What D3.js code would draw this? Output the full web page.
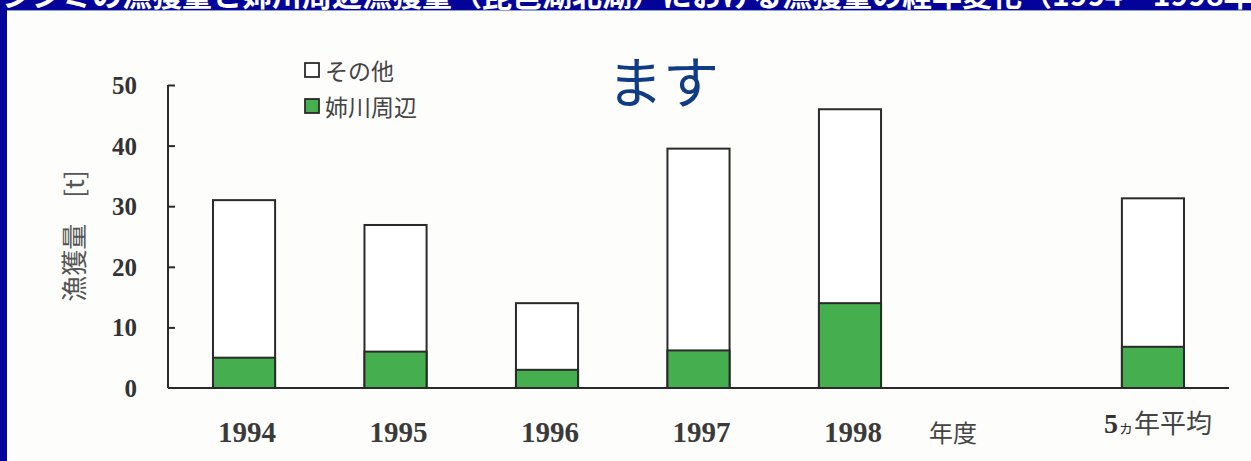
<!DOCTYPE html>
<html>
<head>
<meta charset="utf-8">
<script src="https://cdn.jsdelivr.net/npm/d3@7"></script>
<style>
  html, body { margin: 0; padding: 0; background: #fdfdfb; }
  svg { display: block; }
</style>
</head>
<body>
<div id="chart"></div>
<script>
// ── Data ─────────────────────────────────────────────
const categories = ["1994", "1995", "1996", "1997", "1998", "gap", "avg"];
const anegawa   = [5.0, 6.0, 3.0, 6.2, 14.0, null, 6.8];   // 姉川周辺
const totals    = [31.0, 26.9, 14.0, 39.5, 46.0, null, 31.3];
const yTicks    = [0, 10, 20, 30, 40, 50];
const xLabels   = ["1994", "1995", "1996", "1997", "1998", "", "5ヵ年平均"];
const legendLabels = ["その他", "姉川周辺"];

const W = 1251, H = 461;
const green = "#45af50";
const ink = "#2a2a2a";

const svg = d3.select("#chart").append("svg")
  .attr("width", W).attr("height", H);

svg.append("rect").attr("width", W).attr("height", H).attr("fill", "#fdfdfb");

// slide frame (blue strip top + left)
svg.append("rect").attr("x", 0).attr("y", 0).attr("width", W).attr("height", 10).attr("fill", "#03039a");
svg.append("rect").attr("x", 0).attr("y", 0).attr("width", 7).attr("height", H).attr("fill", "#03039a");
svg.append("line").attr("x1", 7).attr("x2", W).attr("y1", 10.5).attr("y2", 10.5)
  .attr("stroke", "#8fa0d8").attr("stroke-width", 1);

// slide title, cut by the top edge (only its lower part shows)
svg.append("clipPath").attr("id", "topclip")
  .append("rect").attr("x", 0).attr("y", 0).attr("width", W).attr("height", 10);
svg.append("text")
  .attr("clip-path", "url(#topclip)")
  .attr("x", 2).attr("y", 6)
  .attr("fill", "#ffffff")
  .attr("font-family", "Noto Sans CJK JP")
  .attr("font-size", 30)
  .attr("font-weight", "bold")
  .text("シジミの漁獲量と姉川周辺漁獲量（琵琶湖北湖）における漁獲量の経年変化（1994〜1998年度）");

// ── Scales ───────────────────────────────────────────
const y = d3.scaleLinear().domain([0, 50]).range([388, 85]);
const x = d3.scaleBand().domain(categories).range([168, 1229])
  .paddingInner(0.59).paddingOuter(0.297);

// ── Axes ─────────────────────────────────────────────
const yAxis = svg.append("g")
  .attr("transform", "translate(168,0)")
  .call(d3.axisRight(y).tickValues(yTicks).tickSize(7).tickFormat(""));
yAxis.select(".domain").attr("stroke", ink).attr("stroke-width", 2)
  .attr("d", `M0,${y(50)}V${y(0)}`);
yAxis.selectAll(".tick line").attr("stroke", ink).attr("stroke-width", 2);
yAxis.selectAll(".tick").filter(d => d === 0).remove();

svg.selectAll(".ylab").data(yTicks).enter().append("text")
  .attr("class", "ylab")
  .attr("x", 137).attr("y", d => y(d))
  .attr("dy", "0.36em")
  .attr("text-anchor", "end")
  .attr("font-family", "Liberation Serif")
  .attr("font-weight", "bold")
  .attr("font-size", 25)
  .attr("fill", "#333")
  .text(d => d);

// baseline
svg.append("line")
  .attr("x1", 168).attr("x2", 1229)
  .attr("y1", y(0)).attr("y2", y(0))
  .attr("stroke", ink).attr("stroke-width", 2);

// ── Bars ─────────────────────────────────────────────
const rows = categories.map((c, i) => ({ c, a: anegawa[i], t: totals[i] }))
  .filter(d => d.t !== null);

svg.selectAll(".bar-total").data(rows).enter().append("rect")
  .attr("x", d => x(d.c)).attr("width", x.bandwidth())
  .attr("y", d => y(d.t)).attr("height", d => y(0) - y(d.t))
  .attr("fill", "#ffffff").attr("stroke", ink).attr("stroke-width", 2);

svg.selectAll(".bar-ane").data(rows).enter().append("rect")
  .attr("x", d => x(d.c)).attr("width", x.bandwidth())
  .attr("y", d => y(d.a)).attr("height", d => y(0) - y(d.a))
  .attr("fill", green).attr("stroke", ink).attr("stroke-width", 2);

// ── X labels ─────────────────────────────────────────
categories.forEach((c, i) => {
  if (!xLabels[i]) return;
  const cx = x(c) + x.bandwidth() / 2;
  if (c === "avg") {
    const t = svg.append("text")
      .attr("x", cx + 5).attr("y", 433)
      .attr("text-anchor", "middle")
      .attr("fill", "#333");
    t.append("tspan").attr("font-family", "Liberation Serif").attr("font-weight", "bold")
      .attr("font-size", 28).text("5");
    t.append("tspan").attr("font-family", "Noto Sans CJK JP").attr("font-size", 16).text("ヵ");
    t.append("tspan").attr("font-family", "Noto Sans CJK JP").attr("font-size", 26)
      .attr("fill", "#444").text("年平均");
  } else {
    svg.append("text")
      .attr("x", cx + 3).attr("y", 442)
      .attr("text-anchor", "middle")
      .attr("font-family", "Liberation Serif")
      .attr("font-weight", "bold")
      .attr("font-size", 29)
      .attr("fill", "#3a3a3a")
      .text(xLabels[i]);
  }
});

svg.append("text")
  .attr("x", 953).attr("y", 442)
  .attr("text-anchor", "middle")
  .attr("font-family", "Noto Sans CJK JP")
  .attr("font-size", 24)
  .attr("fill", "#444")
  .text("年度");

// ── Y title ──────────────────────────────────────────
svg.append("text")
  .attr("transform", "translate(72,236) rotate(-90)")
  .attr("text-anchor", "middle")
  .attr("dominant-baseline", "central")
  .attr("font-family", "Noto Sans CJK JP")
  .attr("font-size", 26)
  .attr("fill", "#555")
  .text("漁獲量　[t]");

// ── Legend ───────────────────────────────────────────
const legend = svg.append("g").attr("transform", "translate(305,70)");
legendLabels.forEach((lab, i) => {
  const g = legend.append("g").attr("transform", `translate(0,${i * 36})`);
  g.append("rect").attr("x", 0).attr("y", -7).attr("width", 14).attr("height", 14)
    .attr("fill", i === 0 ? "#ffffff" : green)
    .attr("stroke", ink).attr("stroke-width", 1.8);
  g.append("text").attr("x", 20).attr("y", 0)
    .attr("dominant-baseline", "central")
    .attr("font-family", "Noto Sans CJK JP")
    .attr("font-size", 23)
    .attr("fill", "#444")
    .text(lab);
});

// ── Overlay text from slide ──────────────────────────
svg.append("text")
  .attr("x", 663).attr("y", 78)
  .attr("text-anchor", "middle")
  .attr("dominant-baseline", "central")
  .attr("font-family", "Noto Sans CJK JP")
  .attr("font-size", 56)
  .attr("fill", "#0f3c84")
  .text("ます");
</script>
</body>
</html>
